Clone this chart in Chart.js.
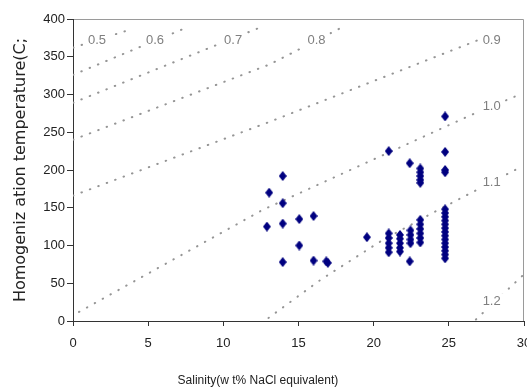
<!DOCTYPE html>
<html>
<head>
<meta charset="utf-8">
<script src="https://cdn.jsdelivr.net/npm/chart.js"></script>
<style>
  body { margin: 0; background: #fff; }
  #wrap { width: 527px; height: 392px; }
</style>
</head>
<body>
<div id="wrap"><canvas id="fluidChart" width="527" height="392"></canvas></div>
<script>
// inclusions fluides : salinite (wt% NaCl eq.) vs temperature d'homogeneisation
var salinity = [
    12.9, 13.05, 13.95, 13.95, 13.95, 13.95, 15.05, 15.05, 16.0, 16.0, 16.85, 16.95,
    21.0, 22.4, 23.1, 23.1, 23.1, 23.1, 23.1, 24.75, 24.75, 24.75, 24.75,
    19.55,
    21.0, 21.0, 21.0, 21.0, 21.0,
    21.75, 21.75, 21.75, 21.75, 21.75,
    22.45, 22.45, 22.45, 22.45, 22.4,
    23.1, 23.1, 23.1, 23.1, 23.1, 23.1,
    24.75, 24.75, 24.75, 24.75, 24.75, 24.75, 24.75, 24.75, 24.75, 24.75, 24.75, 24.75, 24.75, 24.75
];
var homogTemp = [
    125, 170, 192, 156, 129, 78, 135, 100, 139, 80, 79, 77,
    225, 209, 202, 197, 192, 187, 183, 271, 224, 200, 197,
    111,
    116, 110, 103, 97, 91,
    114, 109, 103, 97, 92,
    120, 114, 108, 103, 79,
    134, 128, 122, 116, 110, 104,
    148, 143, 138, 133, 128, 123, 118, 113, 108, 103, 98, 93, 88, 83
];

// isolignes de densite (g/cm3)
var iso05Sal = [0, 3.8],          iso05Temp = [362, 386];
var iso06Sal = [0, 7.6],          iso06Temp = [326, 389];
var iso07Sal = [0, 12.6],         iso07Temp = [289, 390];
var iso08Sal = [0, 13.1, 17.8],   iso08Temp = [240, 340, 388];
var iso09Sal = [0, 13.1, 27.2],   iso09Temp = [166, 264, 374];
var iso10Sal = [0.4, 12.6, 26.5, 29.6], iso10Temp = [12, 147, 273, 299];
var iso11Sal = [13.0, 16.5, 20.5, 24.0, 29.6], iso11Temp = [4, 55, 106, 144, 202];
var iso12Sal = [26.8, 29.9],      iso12Temp = [2, 60];

var isoText = ['0.5', '0.6', '0.7', '0.8', '0.9', '1.0', '1.1', '1.2'];
var isoTextSal = [1.6, 5.45, 10.65, 16.2, 27.85, 27.85, 27.85, 27.85];
var isoTextTemp = [372, 372, 372, 372, 372, 284, 184, 26];

var xTitle = 'Salinity(w t% NaCl equivalent)';
var yTitle = 'Homogeniz ation temperature(C;';

function toPoints(xs, ys)
{
    var pts = [];
    for (var i = 0; i < xs.length; i++) {
        pts.push({x: xs[i], y: ys[i]});
    }
    return pts;
}

function makeDiamond()
{
    var c = document.createElement('canvas');
    c.width = 8;
    c.height = 10;
    var g = c.getContext('2d');
    g.fillStyle = '#000080';
    g.beginPath();
    g.moveTo(4, 0);
    g.lineTo(8, 5);
    g.lineTo(4, 10);
    g.lineTo(0, 5);
    g.closePath();
    g.fill();
    return c;
}

function isoDataset(xs, ys)
{
    return {
        data: toPoints(xs, ys),
        showLine: true,
        pointRadius: 0,
        borderColor: '#959595',
        borderWidth: 2,
        borderDash: [0.5, 8.5],
        borderCapStyle: 'round',
        fill: false,
        order: 2
    };
}

// cadre haut/droite gris clair
var framePlugin = {
    id: 'frame',
    beforeDraw: function(chart) {
        var a = chart.chartArea, ctx = chart.ctx;
        ctx.save();
        ctx.strokeStyle = '#9a9a9a';
        ctx.lineWidth = 1;
        ctx.beginPath();
        ctx.moveTo(a.left, a.top + 0.5);
        ctx.lineTo(a.right - 0.5, a.top + 0.5);
        ctx.lineTo(a.right - 0.5, a.bottom);
        ctx.stroke();
        ctx.restore();
    }
};

// etiquettes des isolignes + titre de l'axe x (decale a gauche comme l'original)
var isoLabelPlugin = {
    id: 'isoLabels',
    afterDatasetsDraw: function(chart) {
        var ctx = chart.ctx, xs = chart.scales.x, ys = chart.scales.y;
        ctx.save();
        ctx.font = '13px "Liberation Sans", Arial, sans-serif';
        ctx.textAlign = 'center';
        ctx.textBaseline = 'middle';
        for (var i = 0; i < isoText.length; i++) {
            var px = xs.getPixelForValue(isoTextSal[i]);
            var py = ys.getPixelForValue(isoTextTemp[i]);
            var w = ctx.measureText(isoText[i]).width + 8;
            ctx.fillStyle = '#fff';
            ctx.fillRect(px - w / 2, py - 8, w, 16);
            ctx.fillStyle = '#7f7f7f';
            ctx.fillText(isoText[i], px, py);
        }
        ctx.font = '12px "Liberation Sans", Arial, sans-serif';
        ctx.fillStyle = '#222';
        ctx.fillText(xTitle, xs.getPixelForValue(12.3), 381);
        ctx.restore();
    }
};

var tickFont = {family: '"Liberation Sans", Arial, sans-serif', size: 13};

var myChart = new Chart(document.getElementById('fluidChart').getContext('2d'), {
    type: 'scatter',
    data: {
        datasets: [
            {
                data: toPoints(salinity, homogTemp),
                pointStyle: makeDiamond(),
                pointRadius: 4,
                order: 0
            },
            isoDataset(iso05Sal, iso05Temp),
            isoDataset(iso06Sal, iso06Temp),
            isoDataset(iso07Sal, iso07Temp),
            isoDataset(iso08Sal, iso08Temp),
            isoDataset(iso09Sal, iso09Temp),
            isoDataset(iso10Sal, iso10Temp),
            isoDataset(iso11Sal, iso11Temp),
            isoDataset(iso12Sal, iso12Temp)
        ]
    },
    options: {
        responsive: false,
        animation: false,
        layout: {
            autoPadding: false,
            padding: {top: 19, right: 3, left: 0, bottom: 0}
        },
        plugins: {
            legend: {display: false},
            tooltip: {enabled: false}
        },
        scales: {
            x: {
                type: 'linear',
                min: 0,
                max: 30,
                afterFit: function(scale) {
                    scale.height = 71;
                    scale.paddingLeft = 0;
                    scale.paddingRight = 0;
                },
                ticks: {stepSize: 5, color: '#222', font: tickFont, padding: 10},
                grid: {drawOnChartArea: false, tickLength: 5, color: '#333'},
                border: {color: '#333'}
            },
            y: {
                type: 'linear',
                min: 0,
                max: 400,
                afterFit: function(scale) {
                    scale.width = 73;
                    scale.paddingTop = 0;
                    scale.paddingBottom = 0;
                },
                ticks: {stepSize: 50, color: '#222', font: tickFont, padding: 2},
                grid: {drawOnChartArea: false, tickLength: 6, color: '#333'},
                border: {color: '#333'},
                title: {
                    display: true,
                    text: yTitle,
                    color: '#222',
                    font: {family: '"DejaVu Sans", sans-serif', size: 16},
                    padding: {top: 11, bottom: 0}
                }
            }
        }
    },
    plugins: [framePlugin, isoLabelPlugin]
});
</script>
</body>
</html>
